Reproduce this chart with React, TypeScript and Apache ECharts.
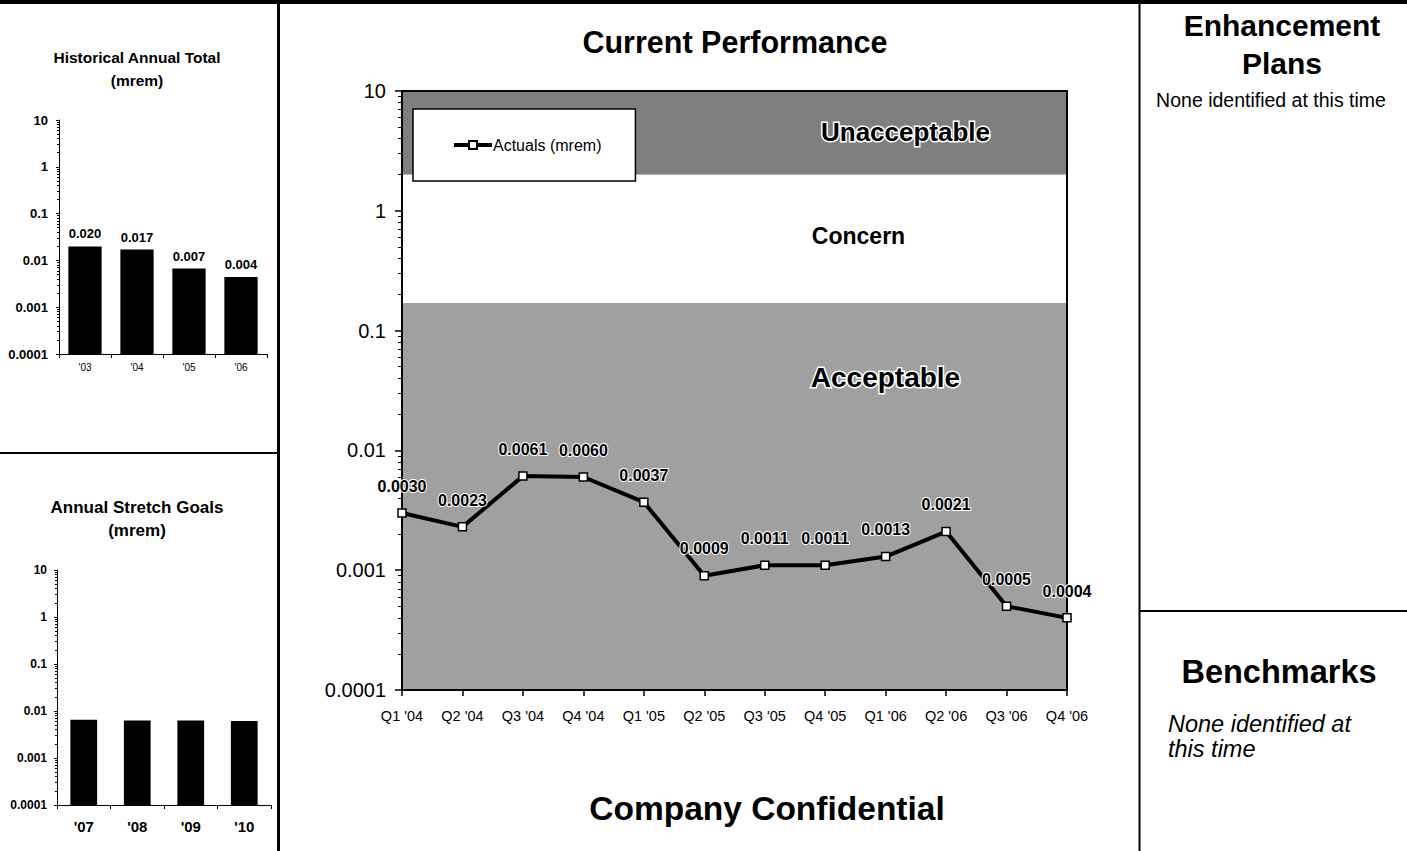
import React, { useEffect, useRef } from "react";
import * as echarts from "echarts";

// ---- data ----
const quarters = ["Q1 '04", "Q2 '04", "Q3 '04", "Q4 '04", "Q1 '05", "Q2 '05", "Q3 '05", "Q4 '05", "Q1 '06", "Q2 '06", "Q3 '06", "Q4 '06"];
const actuals = [0.003, 0.0023, 0.0061, 0.006, 0.0037, 0.0009, 0.0011, 0.0011, 0.0013, 0.0021, 0.0005, 0.0004];

const historyYears = ["'03", "'04", "'05", "'06"];
const historyTotals = [0.0199, 0.017, 0.0067, 0.0044];

const goalYears = ["'07", "'08", "'09", "'10"];
const stretchGoals = [0.0065, 0.0063, 0.0063, 0.0061];

const bandNames = ["Unacceptable", "Concern", "Acceptable"];
const bandEdges = [10, 2, 0.17, 0.0001];

const decadeLabels = ["0.0001", "0.001", "0.01", "0.1", "1", "10"];
const LOG_MIN = 0.0001;
const LOG_MAX = 10;

const FONT = "'Liberation Sans', Arial, Helvetica, sans-serif";

const decadeFormatter = (v: number) => decadeLabels[Math.round(Math.log10(v)) + 4] ?? "";

function barRenderer(withLabels: boolean, widthRatio: number) {
  return (params: any, api: any) => {
    const idx = api.value(0);
    const v = api.value(1);
    const top = api.coord([idx, v]);
    const base = api.coord([idx, LOG_MIN]);
    const band = Math.abs(api.coord([1, v])[0] - api.coord([0, v])[0]);
    const w = band * widthRatio;
    const children: any[] = [
      {
        type: "rect",
        shape: { x: top[0] - w / 2, y: top[1], width: w, height: base[1] - top[1] },
        style: { fill: "#000" },
      },
    ];
    if (withLabels) {
      children.push({
        type: "text",
        x: top[0],
        y: top[1] - 6,
        style: {
          text: v.toFixed(3),
          align: "center",
          verticalAlign: "bottom",
          textAlign: "center",
          textVerticalAlign: "bottom",
          fontSize: 13,
          fontWeight: "bold",
          fontFamily: FONT,
          fill: "#000",
        },
      });
    }
    return { type: "group", children };
  };
}

function smallLogAxis(gridIndex: number, labelSize: number, margin: number) {
  return {
    gridIndex,
    type: "log",
    logBase: 10,
    min: LOG_MIN,
    max: LOG_MAX,
    z: 3,
    axisLine: { show: true, lineStyle: { color: "#000", width: 1 } },
    axisTick: { show: true, length: 3, lineStyle: { color: "#000" } },
    minorTick: { show: true, splitNumber: 9, length: 2, lineStyle: { color: "#000" } },
    splitLine: { show: false },
    axisLabel: {
      formatter: decadeFormatter,
      fontSize: labelSize,
      fontWeight: "bold",
      fontFamily: FONT,
      color: "#000",
      margin,
    },
  };
}

const bandStyles = [
  { color: "#7f7f7f", labelSize: 26, offset: [171, -1], halo: 3 },
  { color: "#ffffff", labelSize: 23, offset: [124, -3], halo: 0 },
  { color: "#a0a0a0", labelSize: 28, offset: [151, -119], halo: 3 },
];

function text(x: number, y: number, str: string, size: number, opts: any = {}) {
  return {
    type: "text",
    x,
    y,
    z: 10,
    style: {
      text: str,
      fontSize: size,
      fontWeight: opts.weight ?? "bold",
      fontStyle: opts.italic ? "italic" : "normal",
      fontFamily: FONT,
      fill: "#000",
      align: opts.align ?? "center",
      textAlign: opts.align ?? "center",
      verticalAlign: "middle",
      textVerticalAlign: "middle",
    },
  };
}

function rule(x1: number, y1: number, x2: number, y2: number, w: number) {
  return {
    type: "line",
    z: 10,
    shape: { x1, y1, x2, y2 },
    style: { stroke: "#000", lineWidth: w },
  };
}

export default function App() {
  const ref = useRef<HTMLDivElement>(null);

  useEffect(() => {
    if (!ref.current) return;
    const chart = echarts.init(ref.current, undefined, { renderer: "svg" });

    const markAreaData = bandNames.map((name, i) => [
      {
        name,
        yAxis: bandEdges[i],
        itemStyle: { color: bandStyles[i].color },
        label: {
          show: true,
          position: "inside",
          offset: bandStyles[i].offset,
          fontSize: bandStyles[i].labelSize,
          fontWeight: "bold",
          fontFamily: FONT,
          color: "#000",
          textBorderColor: "#fff",
          textBorderWidth: bandStyles[i].halo,
        },
      },
      { yAxis: bandEdges[i + 1] },
    ]);

    chart.setOption({
      animation: false,
      backgroundColor: "#fff",
      textStyle: { fontFamily: FONT },
      grid: [
        { left: 59, top: 120, width: 208, height: 234 },
        { left: 57, top: 570, width: 214, height: 235 },
        { left: 402, top: 91, width: 665, height: 599 },
      ],
      legend: {
        data: ["Actuals (mrem)"],
        left: 413,
        top: 109,
        backgroundColor: "#fff",
        borderColor: "#000",
        borderWidth: 1.5,
        borderRadius: 0,
        padding: [28, 34, 28, 39],
        itemWidth: 38,
        itemHeight: 10,
        itemGap: 0,
        lineStyle: { width: 4, color: "#000" },
        textStyle: { fontSize: 16, color: "#000", fontFamily: FONT, padding: [0, 0, 0, -4] },
      },
      xAxis: [
        {
          gridIndex: 0,
          type: "category",
          data: historyYears,
          z: 3,
          axisLine: { lineStyle: { color: "#000", width: 1 } },
          axisTick: { show: true, length: 4, lineStyle: { color: "#000" } },
          axisLabel: { fontSize: 10, color: "#000", margin: 8, fontFamily: FONT },
        },
        {
          gridIndex: 1,
          type: "category",
          data: goalYears,
          z: 3,
          axisLine: { lineStyle: { color: "#000", width: 1 } },
          axisTick: { show: true, length: 4, lineStyle: { color: "#000" } },
          axisLabel: { fontSize: 15, fontWeight: "bold", color: "#000", margin: 14, fontFamily: FONT },
        },
        {
          gridIndex: 2,
          type: "category",
          data: quarters,
          boundaryGap: false,
          z: 3,
          axisLine: { lineStyle: { color: "#000", width: 2 } },
          axisTick: { show: true, length: 6, lineStyle: { color: "#000", width: 1.5 } },
          axisLabel: { fontSize: 14.5, color: "#000", margin: 18, fontFamily: FONT },
        },
        {
          gridIndex: 2,
          type: "category",
          position: "top",
          data: quarters,
          boundaryGap: false,
          z: 3,
          axisLine: { lineStyle: { color: "#000", width: 2 } },
          axisTick: { show: false },
          axisLabel: { show: false },
        },
      ],
      yAxis: [
        smallLogAxis(0, 13, 11),
        smallLogAxis(1, 12, 10),
        {
          gridIndex: 2,
          type: "log",
          logBase: 10,
          min: LOG_MIN,
          max: LOG_MAX,
          z: 3,
          axisLine: { show: true, lineStyle: { color: "#000", width: 2 } },
          axisTick: { show: true, length: 7, lineStyle: { color: "#000", width: 1.5 } },
          minorTick: { show: true, splitNumber: 9, length: 4, lineStyle: { color: "#000" } },
          splitLine: { show: false },
          axisLabel: { formatter: decadeFormatter, fontSize: 20, color: "#000", margin: 16, fontFamily: FONT },
        },
        {
          gridIndex: 2,
          type: "log",
          logBase: 10,
          min: LOG_MIN,
          max: LOG_MAX,
          position: "right",
          z: 3,
          axisLine: { show: true, lineStyle: { color: "#000", width: 2 } },
          axisTick: { show: false },
          axisLabel: { show: false },
          splitLine: { show: false },
        },
      ],
      series: [
        {
          type: "custom",
          name: "Historical Annual Total",
          xAxisIndex: 0,
          yAxisIndex: 0,
          data: historyTotals.map((v, i) => [i, v]),
          encode: { x: 0, y: 1 },
          renderItem: barRenderer(true, 0.64),
        },
        {
          type: "custom",
          name: "Annual Stretch Goals",
          xAxisIndex: 1,
          yAxisIndex: 1,
          data: stretchGoals.map((v, i) => [i, v]),
          encode: { x: 0, y: 1 },
          renderItem: barRenderer(false, 0.5),
        },
        {
          type: "line",
          name: "Actuals (mrem)",
          xAxisIndex: 2,
          yAxisIndex: 2,
          z: 4,
          data: actuals,
          symbol: "rect",
          symbolSize: 8,
          lineStyle: { color: "#000", width: 4 },
          itemStyle: { color: "#fff", borderColor: "#000", borderWidth: 1.5 },
          label: {
            show: true,
            position: "top",
            distance: 14,
            fontSize: 16,
            fontWeight: "bold",
            fontFamily: FONT,
            color: "#000",
            textBorderColor: "#fff",
            textBorderWidth: 2,
            formatter: (p: any) => Number(p.value).toFixed(4),
          },
          markArea: { silent: true, data: markAreaData },
        },
      ],
      graphic: [
        rule(0, 2, 1407, 2, 4),
        rule(278.5, 0, 278.5, 851, 3),
        rule(1139.5, 0, 1139.5, 851, 2),
        rule(0, 453, 278.5, 453, 2),
        rule(1139.5, 611, 1407, 611, 2),
        text(137, 57, "Historical Annual Total", 15.5),
        text(137, 80, "(mrem)", 15.5),
        text(137, 507, "Annual Stretch Goals", 17),
        text(137, 530, "(mrem)", 17),
        text(735, 42, "Current Performance", 30.5),
        text(767, 808, "Company Confidential", 33.5),
        text(1282, 25, "Enhancement", 30),
        text(1282, 63, "Plans", 30),
        text(1271, 100, "None identified at this time", 19.5, { weight: "normal" }),
        text(1279, 672, "Benchmarks", 32.5),
        text(1168, 724, "None identified at", 23.5, { weight: "normal", italic: true, align: "left" }),
        text(1168, 749, "this time", 23.5, { weight: "normal", italic: true, align: "left" }),
      ],
    });

    return () => chart.dispose();
  }, []);

  return (
    <div
      ref={ref}
      style={{ position: "absolute", left: 0, top: 0, width: 1407, height: 851, background: "#fff" }}
    />
  );
}
